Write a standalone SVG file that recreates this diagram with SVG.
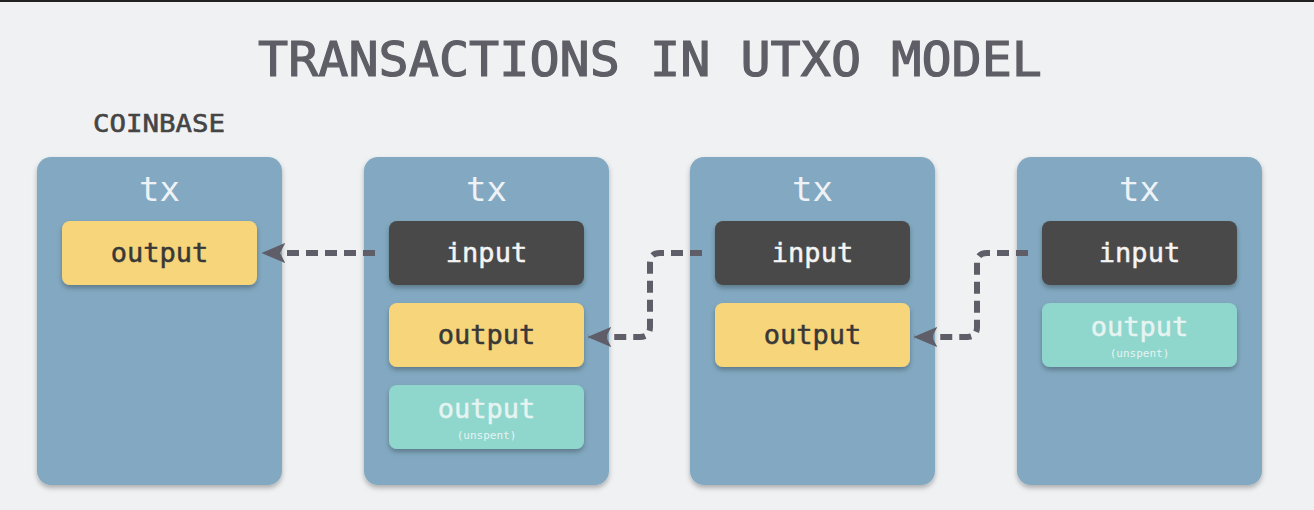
<svg xmlns="http://www.w3.org/2000/svg" width="1314" height="510" viewBox="0 0 1314 510">
<defs>
<filter id="sh" x="-10%" y="-10%" width="120%" height="130%">
<feDropShadow dx="0" dy="3" stdDeviation="2.5" flood-color="#000" flood-opacity="0.28"/>
</filter>
<marker id="ah" markerWidth="4" markerHeight="4" refX="3.9" refY="2" orient="auto" markerUnits="strokeWidth" viewBox="0 0 4 4">
<path d="M4,2 L0,0.3 L0.9,2 L0,3.7 Z" fill="#5f5e68"/>
</marker>
<style>
.tx{fill:#82a9c1;filter:url(#sh)}
.out{fill:#f7d57a;filter:url(#sh)}
.in{fill:#484848;filter:url(#sh)}
.un{fill:#8fd6cd;filter:url(#sh)}
.t{font-family:"DejaVu Sans Mono","Liberation Mono",monospace;text-anchor:middle}
.txl{font-size:34px;fill:#eef2f6}
.lbl{font-size:27px;stroke-width:0.5px}
.dk{fill:#383838;stroke:#383838}
.wh{fill:#f4f4f4;stroke:#f4f4f4}
.lt{fill:#e6f4f1;stroke:#e6f4f1}
.sm{font-size:11px;fill:#e6f4f1}
.c{fill:none;stroke:#5f5e68;stroke-width:6;stroke-dasharray:12 7;marker-end:url(#ah)}
</style>
</defs>
<rect width="1314" height="510" fill="#f0f1f3"/>
<rect width="1314" height="2" fill="#222"/>
<text class="t" x="650" y="76" font-size="48" fill="#5f5e66" stroke="#5f5e66" stroke-width="1.2" textLength="784" lengthAdjust="spacingAndGlyphs">TRANSACTIONS IN UTXO MODEL</text>
<text class="t" x="159" y="132" font-size="25" fill="#454545" stroke="#454545" stroke-width="0.6" textLength="132" lengthAdjust="spacingAndGlyphs">COINBASE</text>

<g id="tx1">
<rect class="tx" x="37" y="157" width="245" height="328" rx="14"/>
<text class="t txl" x="159.5" y="201">tx</text>
<rect class="out" x="62" y="221" width="195" height="64" rx="8"/>
<text class="t lbl dk" x="159.5" y="262">output</text>
</g>
<g id="tx2">
<rect class="tx" x="364" y="157" width="245" height="328" rx="14"/>
<text class="t txl" x="486.5" y="201">tx</text>
<rect class="in" x="389" y="221" width="195" height="64" rx="8"/>
<text class="t lbl wh" x="486.5" y="262">input</text>
<rect class="out" x="389" y="303" width="195" height="64" rx="8"/>
<text class="t lbl dk" x="486.5" y="344">output</text>
<rect class="un" x="389" y="385" width="195" height="64" rx="8"/>
<text class="t lbl lt" x="486.5" y="418">output</text>
<text class="t sm" x="486.5" y="439">(unspent)</text>
</g>
<g id="tx3">
<rect class="tx" x="690" y="157" width="245" height="328" rx="14"/>
<text class="t txl" x="812.5" y="201">tx</text>
<rect class="in" x="715" y="221" width="195" height="64" rx="8"/>
<text class="t lbl wh" x="812.5" y="262">input</text>
<rect class="out" x="715" y="303" width="195" height="64" rx="8"/>
<text class="t lbl dk" x="812.5" y="344">output</text>
</g>
<g id="tx4">
<rect class="tx" x="1017" y="157" width="245" height="328" rx="14"/>
<text class="t txl" x="1139.5" y="201">tx</text>
<rect class="in" x="1042" y="221" width="195" height="64" rx="8"/>
<text class="t lbl wh" x="1139.5" y="262">input</text>
<rect class="un" x="1042" y="303" width="195" height="64" rx="8"/>
<text class="t lbl lt" x="1139.5" y="336">output</text>
<text class="t sm" x="1139.5" y="357">(unspent)</text>
</g>

<g id="connectors">
<path class="c" d="M375,253 L262,253"/>
<path class="c" d="M702,253 L660,253 Q650,253 650,263 L650,327 Q650,337 640,337 L588,337"/>
<path class="c" d="M1028,253 L987,253 Q977,253 977,263 L977,327 Q977,337 967,337 L914,337"/>
</g>
</svg>
